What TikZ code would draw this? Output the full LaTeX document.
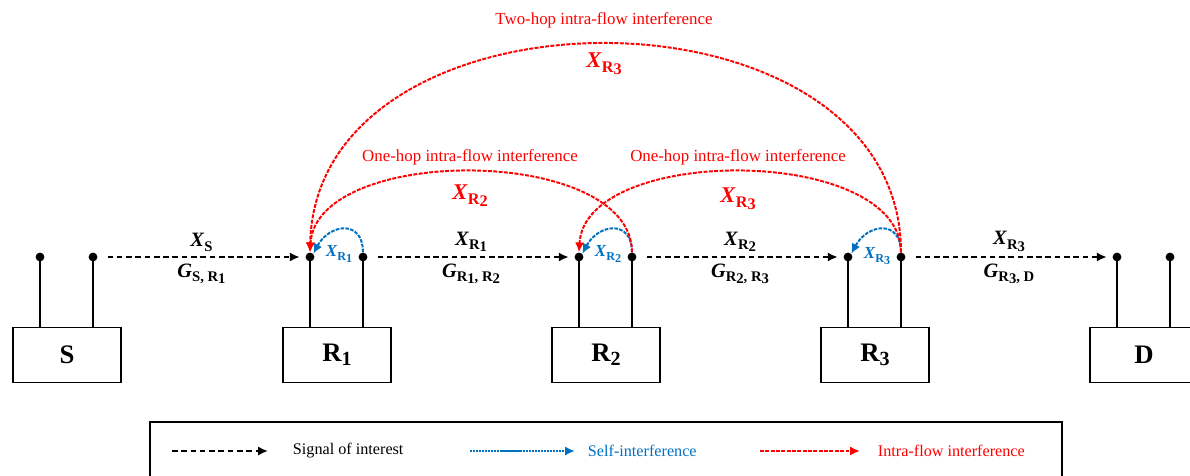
\documentclass[tikz,border=0pt]{standalone}
\usepackage{fontspec}
\setmainfont{Liberation Serif}
\usetikzlibrary{arrows.meta}
\definecolor{selfBlue}{RGB}{0,112,192}
\definecolor{flowRed}{RGB}{255,0,0}
\newcommand{\Sb}[1]{\raisebox{-0.45ex}{\scalebox{0.72}{#1}}}
\newcommand{\Rn}[1]{R\raisebox{-0.3ex}{#1}}
\newcommand{\SigX}[1]{\textbf{\textit{X}\Sb{#1}}}
\newcommand{\GainG}[1]{\textbf{\textit{G}\Sb{#1}}}
\tikzset{
  terminal/.style={draw,line width=1pt,minimum width=2.7cm,minimum height=1.375cm,inner sep=0pt,font=\bfseries\fontsize{19}{21}\selectfont},
  antdot/.style={circle,fill=black,inner sep=0pt,minimum size=0.22cm},
  mast/.style={line width=1.6pt},
  signal/.style={line width=1.4pt,dash pattern=on 4pt off 2.6pt,-{Latex[length=7pt,width=6.5pt]}},
  selfint/.style={selfBlue,line width=1.4pt,dash pattern=on 2.6pt off 0.9pt,-{Latex[length=7pt,width=6.5pt]}},
  flowint/.style={flowRed,line width=1.4pt,dash pattern=on 2.8pt off 1pt,-{Latex[length=7pt,width=6.5pt]}},
  hoplabel/.style={font=\fontsize{12}{14}\selectfont,text=flowRed},
  hopsig/.style={font=\fontsize{16}{18}\selectfont,text=flowRed},
  selflabel/.style={font=\fontsize{12}{13}\selectfont,text=selfBlue},
  siglabel/.style={font=\fontsize{14.5}{16}\selectfont},
  legtext/.style={font=\fontsize{11.5}{13}\selectfont,anchor=west}
}
\begin{document}
\begin{tikzpicture}[x=0.025cm,y=-0.025cm]
\useasboundingbox (0,0) rectangle (1190,475);
% terminals
\node[terminal] (S) at (67,355) {S};
\node[terminal] (R1) at (337,355) {R\raisebox{-0.3ex}{\scalebox{0.75}{1}}};
\node[terminal] (R2) at (606,355) {R\raisebox{-0.3ex}{\scalebox{0.75}{2}}};
\node[terminal] (R3) at (875,355) {R\raisebox{-0.3ex}{\scalebox{0.75}{3}}};
\node[terminal] (D) at (1144,355) {D};
% antennas
\foreach \t/\xa/\xb in {S/40/93,R1/310/363,R2/579/632,R3/848/901,D/1117/1170}{
  \node[antdot] (\t-a) at (\xa,257) {};
  \node[antdot] (\t-b) at (\xb,257) {};
  \draw[mast] (\t-a.center) -- (\t-a |- \t.north);
  \draw[mast] (\t-b.center) -- (\t-b |- \t.north);
}
% signal of interest
\draw[signal,shorten <=7pt,shorten >=4pt] (S-b) -- node[siglabel,above=0pt] (xS) {\SigX{S}} node[siglabel,below=1pt] (gS) {\GainG{S, \Rn{1}}} (R1-a);
\draw[signal,shorten <=7pt,shorten >=4pt] (R1-b) -- node[siglabel,above=0pt] (xR1) {\SigX{\Rn{1}}} node[siglabel,below=1pt] (gR1) {\GainG{\Rn{1}, \Rn{2}}} (R2-a);
\draw[signal,shorten <=7pt,shorten >=4pt] (R2-b) -- node[siglabel,above=0pt] (xR2) {\SigX{\Rn{2}}} node[siglabel,below=1pt] (gR2) {\GainG{\Rn{2}, \Rn{3}}} (R3-a);
\draw[signal,shorten <=7pt,shorten >=4pt] (R3-b) -- node[siglabel,above=0pt] (xR3) {\SigX{\Rn{3}}} node[siglabel,below=1pt] (gR3) {\GainG{\Rn{3}, D}} (D-a);
% self-interference
\foreach \t in {R1,R2,R3}{
  \draw[selfint] (\t-b) .. controls +(0,-38) and +(16,-30) .. (\t-a.north east);
}
\node[selflabel] (si1) at (339,254) {\SigX{\Rn{1}}};
\node[selflabel] (si2) at (608,254) {\SigX{\Rn{2}}};
\node[selflabel] (si3) at (877,256) {\SigX{\Rn{3}}};
% intra-flow interference
\draw[flowint] (R2-b) .. controls +(0,-112) and +(6,-108) .. (R1-a.north);
\draw[flowint] (R3-b) .. controls +(0,-112) and +(6,-108) .. (R2-a.north);
\draw[flowint] (R3-b) .. controls +(0,-282) and +(6,-278) .. (R1-a.north);
\node[hoplabel] (one1) at (470,157) {One-hop intra-flow interference};
\node[hopsig] (fx1) at (470,196) {\SigX{\Rn{2}}};
\node[hoplabel] (one2) at (738,157) {One-hop intra-flow interference};
\node[hopsig] (fx2) at (738,199) {\SigX{\Rn{3}}};
\node[hoplabel] (two) at (604,20) {Two-hop intra-flow interference};
\node[hopsig] (fx3) at (604,64) {\SigX{\Rn{3}}};
% legend
\draw[line width=1pt] (150,422) rectangle (1062,505);
\coordinate (l1a) at (172,451); \coordinate (l1b) at (268,451);
\coordinate (l2a) at (470,451); \coordinate (l2b) at (575,451);
\coordinate (l3a) at (760,451); \coordinate (l3b) at (860,451);
\draw[signal] (l1a) -- (l1b);
\draw[selfint,dash pattern=on 1.6pt off 0.5pt] (l2a) -- (l2b);
\draw[flowint] (l3a) -- (l3b);
\node[legtext] (lt1) at (288,451) {Signal of interest};
\node[legtext,text=selfBlue] (lt2) at (583,451) {Self-interference};
\node[legtext,text=flowRed] (lt3) at (873,451) {Intra-flow interference};
\end{tikzpicture}
\end{document}
